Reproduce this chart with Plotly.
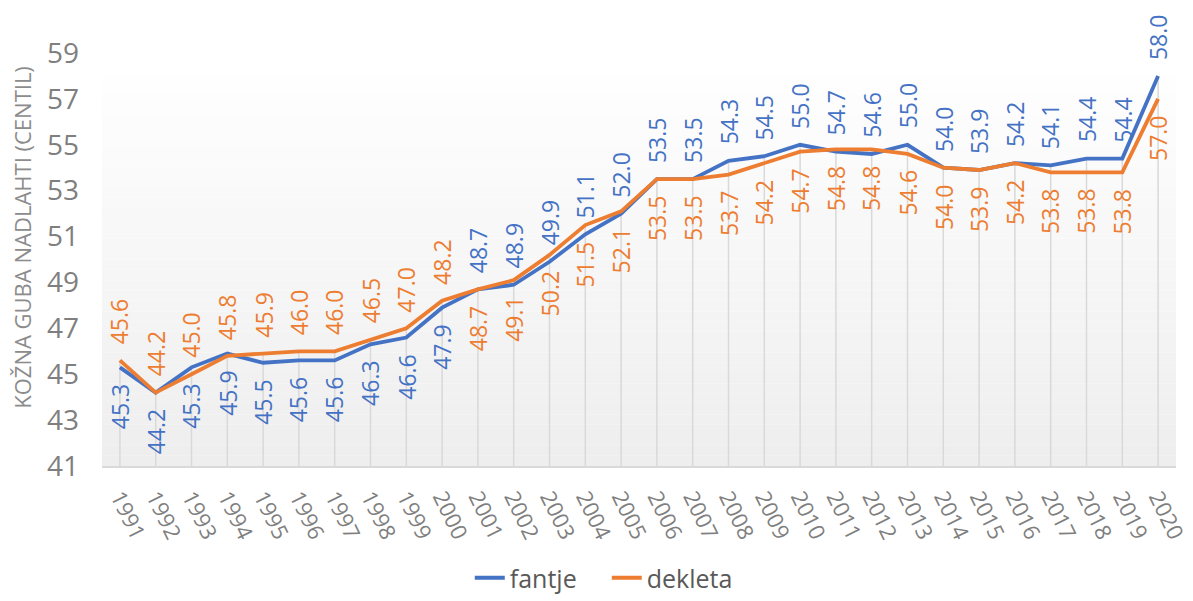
import plotly.graph_objects as go

years = [str(y) for y in range(1991, 2021)]
fantje = [45.3, 44.2, 45.3, 45.9, 45.5, 45.6, 45.6, 46.3, 46.6, 47.9,
          48.7, 48.9, 49.9, 51.1, 52.0, 53.5, 53.5, 54.3, 54.5, 55.0,
          54.7, 54.6, 55.0, 54.0, 53.9, 54.2, 54.1, 54.4, 54.4, 58.0]
dekleta = [45.6, 44.2, 45.0, 45.8, 45.9, 46.0, 46.0, 46.5, 47.0, 48.2,
           48.7, 49.1, 50.2, 51.5, 52.1, 53.5, 53.5, 53.7, 54.2, 54.7,
           54.8, 54.8, 54.6, 54.0, 53.9, 54.2, 53.8, 53.8, 53.8, 57.0]
# label placement: True = above the point
fantje_above = [False] * 10 + [True] * 20
dekleta_above = [True] * 10 + [False] * 20
y_ticks = [41, 43, 45, 47, 49, 51, 53, 55, 57, 59]
y_title = "KOŽNA GUBA NADLAHTI (CENTIL)"

BLUE = "#4472C4"
ORANGE = "#ED7D31"
FONT = "Open Sans"

fig = go.Figure()

# drop lines
dx, dy = [], []
for yr, a, b in zip(years, fantje, dekleta):
    dx += [yr, yr, None]
    dy += [41, max(a, b), None]
fig.add_trace(go.Scatter(x=dx, y=dy, mode="lines", line=dict(color="#d9d9d9", width=1.5),
                         showlegend=False, hoverinfo="skip", connectgaps=False))

fig.add_trace(go.Scatter(x=years, y=fantje, mode="lines", name="fantje",
                         line=dict(color=BLUE, width=3.8)))
fig.add_trace(go.Scatter(x=years, y=dekleta, mode="lines", name="dekleta",
                         line=dict(color=ORANGE, width=3.8)))

ann = []
for series, above, col in ((fantje, fantje_above, BLUE), (dekleta, dekleta_above, ORANGE)):
    for i, (v, ab) in enumerate(zip(series, above)):
        ann.append(dict(x=i, y=v, xref="x", yref="y", text=f"{v:.1f}", showarrow=False,
                        textangle=-90, font=dict(family=FONT, size=23, color=col),
                        yanchor="bottom" if ab else "top", yshift=14 if ab else -14,
                        xanchor="center"))

# y axis title as annotation
ann.append(dict(x=-0.0745, y=0.555, xref="paper", yref="paper", text=y_title,
                showarrow=False, textangle=-90, xanchor="center", yanchor="middle",
                font=dict(family=FONT, size=22, color="#8c8c8c")))

# gradient background bands
shapes = []
n = 40
for i in range(n):
    t = i / (n - 1)
    c = int(round(255 - 17 * (1 - t)))
    shapes.append(dict(type="rect", xref="x domain", yref="y domain", x0=0, x1=1,
                       y0=i / n, y1=(i + 1) / n, fillcolor=f"rgb({c},{c},{c})",
                       line=dict(width=0), layer="below"))

fig.update_layout(
    width=1193, height=601,
    margin=dict(l=102, r=17, t=53, b=135),
    paper_bgcolor="white", plot_bgcolor="white",
    font=dict(family=FONT, color="#7f7f7f"),
    shapes=shapes, annotations=ann,
    showlegend=True,
    legend=dict(orientation="h", xanchor="center", x=0.47, yref="container",
                yanchor="bottom", y=-0.015,
                entrywidth=92, entrywidthmode="pixels",
                font=dict(family=FONT, size=25, color="#595959"), bgcolor="rgba(0,0,0,0)"),
    xaxis=dict(type="category", range=[-0.5, 29.5], tickangle=64, showgrid=False,
               showline=True, linecolor="#d9d9d9", linewidth=1.5, ticks="",
               ticklabelstandoff=8, automargin=False,
               tickfont=dict(family=FONT, size=22, color="#7f7f7f")),
    yaxis=dict(range=[41, 59], tickvals=y_ticks, showgrid=False, zeroline=False,
               showline=False, ticks="", ticklabelstandoff=22, automargin=False,
               tickfont=dict(family=FONT, size=28, color="#7f7f7f")),
)

fig.write_html("out.html")
